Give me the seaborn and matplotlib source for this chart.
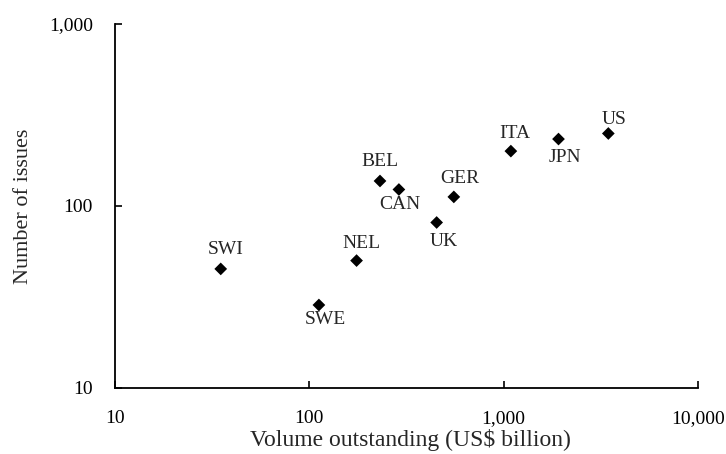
import matplotlib
matplotlib.use("Agg")
import matplotlib.pyplot as plt
import matplotlib.ticker as mticker
import pandas as pd
import seaborn as sns

# --- Dados ---
countries = ["SWI", "SWE", "NEL", "BEL", "CAN", "GER", "UK", "ITA", "JPN", "US"]
volume = [35, 112, 175, 231, 289, 554, 452, 1089, 1915, 3456]
issues = [45, 28.5, 50, 137, 123, 112, 81, 200, 233, 250]
# deslocamento dos rótulos (pixels) em relação ao ponto
label_dx = [5, 6, 5, 0, 1, 6, 7, 4, 6, 6]
label_dy = [19, -15, 17, 19, -15, 18, -19, 18, -18, 14]

x_ticks = [10, 100, 1000, 10000]
y_ticks = [10, 100, 1000]

df = pd.DataFrame({"country": countries, "volume": volume, "issues": issues})

sns.set_theme(style="white")
plt.rcParams["font.family"] = ["Liberation Serif", "DejaVu Serif"]

fig = plt.figure(figsize=(7.26, 4.54), dpi=100)
ax = fig.add_axes([115 / 726, 1 - 387.7 / 454, 583 / 726, 363.7 / 454])

sns.scatterplot(data=df, x="volume", y="issues", marker="D", color="black",
                s=42, edgecolor="none", ax=ax, zorder=3)

for c, xv, yv, dx, dy in zip(countries, volume, issues, label_dx, label_dy):
    ax.annotate(c, (xv, yv), xytext=(dx, dy), textcoords="offset pixels",
                ha="center", va="center", fontsize=14)

ax.set_xscale("log")
ax.set_yscale("log")
ax.set_xlim(10, 10000)
ax.set_ylim(10, 1000)
ax.xaxis.set_major_locator(mticker.FixedLocator(x_ticks))
ax.yaxis.set_major_locator(mticker.FixedLocator(y_ticks))
ax.xaxis.set_minor_locator(mticker.NullLocator())
ax.yaxis.set_minor_locator(mticker.NullLocator())
fmt = mticker.FuncFormatter(lambda v, p: f"{v:,.0f}")
ax.xaxis.set_major_formatter(fmt)
ax.yaxis.set_major_formatter(fmt)

ax.tick_params(axis="both", direction="in", length=5, width=1.2, labelsize=14,
               colors="black", pad=16, bottom=True, left=True)

for side in ["top", "right"]:
    ax.spines[side].set_visible(False)
for side in ["left", "bottom"]:
    ax.spines[side].set_color("black")
    ax.spines[side].set_linewidth(1.3)

ax.set_xlabel("Volume outstanding (US$ billion)", fontsize=17)
ax.set_ylabel("Number of issues", fontsize=16)
ax.xaxis.set_label_coords(0.507, -0.114)
ax.yaxis.set_label_coords(-0.14, 0.5)
ax.xaxis.label.set_va("top")
ax.grid(False)

fig.savefig("out.png", dpi=100)
plt.close(fig)
